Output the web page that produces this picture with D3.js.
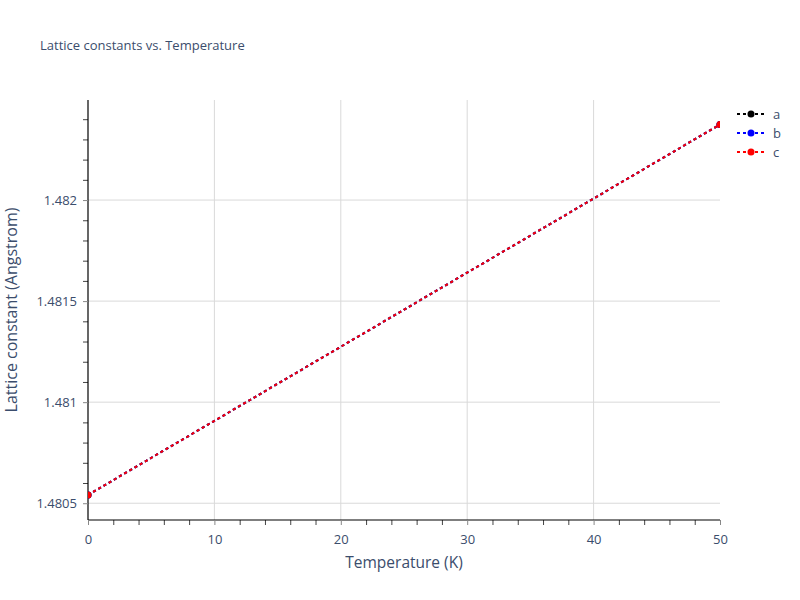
<!DOCTYPE html>
<html>
<head>
<meta charset="utf-8">
<script src="https://cdn.jsdelivr.net/npm/d3@7"></script>
<style>
  body { margin: 0; background: #fff; }
  text { font-family: "Open Sans", verdana, arial, sans-serif; }
</style>
</head>
<body>
<svg id="chart"></svg>
<script>
// data
const temperature = [0, 50];
const latticeA = [1.480541, 1.482374];
const latticeB = [1.480541, 1.482374];
const latticeC = [1.480541, 1.482374];
const seriesNames = ['a', 'b', 'c'];
const seriesColors = ['black', 'blue', 'red'];
const xTicks = [0, 10, 20, 30, 40, 50];
const yTicks = [1.4805, 1.481, 1.4815, 1.482];
const yTickLabels = ['1.4805', '1.481', '1.4815', '1.482'];

const W = 800, H = 600;
const margin = {top: 100, right: 80, bottom: 80, left: 88};
const width = W - margin.left - margin.right;
const height = H - margin.top - margin.bottom;
const textColor = '#3b4d6c';

const svg = d3.select('#chart')
  .attr('width', W)
  .attr('height', H);

const g = svg.append('g')
  .attr('transform', 'translate(' + margin.left + ',' + margin.top + ')');

const x = d3.scaleLinear()
  .domain([0, 50])
  .range([0, width]);

const y = d3.scaleLinear()
  .domain([1.480417, 1.482495])
  .range([height, 0]);

// grid
g.append('g')
  .selectAll('line')
  .data(xTicks.filter(d => d > 0 && d < 50))
  .join('line')
  .attr('x1', d => x(d)).attr('x2', d => x(d))
  .attr('y1', 0).attr('y2', height)
  .attr('stroke', '#d9d9d9').attr('stroke-width', 1);

g.append('g')
  .selectAll('line')
  .data(yTicks)
  .join('line')
  .attr('x1', 0).attr('x2', width)
  .attr('y1', d => y(d)).attr('y2', d => y(d))
  .attr('stroke', '#d9d9d9').attr('stroke-width', 1);

// minor ticks
const xMinor = d3.range(0, 50.001, 2).filter(d => d % 10 !== 0);
g.append('g')
  .attr('transform', 'translate(0,' + height + ')')
  .call(d3.axisBottom(x).tickValues(xMinor).tickSize(5).tickFormat(''))
  .call(s => s.select('.domain').remove())
  .selectAll('line').attr('stroke', '#444');

const yMinor = d3.range(14805, 14825, 1).map(d => d / 10000)
  .filter(d => d >= y.domain()[0] && yTicks.every(t => Math.abs(t - d) > 1e-7));
g.append('g')
  .call(d3.axisLeft(y).tickValues(yMinor).tickSize(5).tickFormat(''))
  .call(s => s.select('.domain').remove())
  .selectAll('line').attr('stroke', '#444');

// major axes
const xAxis = g.append('g')
  .attr('transform', 'translate(0,' + height + ')')
  .call(d3.axisBottom(x).tickValues(xTicks).tickSize(5).tickPadding(10).tickFormat(d3.format('d')));
xAxis.select('.domain').attr('stroke', 'black').attr('stroke-width', 1.2)
  .attr('d', 'M0,0H' + width);
xAxis.selectAll('line').attr('stroke', '#888');
xAxis.selectAll('text').attr('fill', textColor).attr('font-size', 13);

const yAxis = g.append('g')
  .call(d3.axisLeft(y).tickValues(yTicks).tickSize(5).tickPadding(6)
    .tickFormat((d, i) => yTickLabels[i]));
yAxis.select('.domain').attr('stroke', 'black').attr('stroke-width', 1.2)
  .attr('d', 'M0,' + height + 'V0');
yAxis.selectAll('line').attr('stroke', '#888');
yAxis.selectAll('text').attr('fill', textColor).attr('font-size', 13);

// series
const series = [latticeA, latticeB, latticeC].map((vals, i) => ({
  name: seriesNames[i],
  color: seriesColors[i],
  points: temperature.map((t, j) => ({t: t, v: vals[j]}))
}));

svg.append('defs').append('clipPath').attr('id', 'plotclip')
  .append('rect').attr('width', width).attr('height', height);

const line = d3.line()
  .x(d => x(d.t))
  .y(d => y(d.v));

const plot = g.append('g').attr('clip-path', 'url(#plotclip)');
series.forEach(s => {
  plot.append('path')
    .datum(s.points)
    .attr('fill', 'none')
    .attr('stroke', s.color)
    .attr('stroke-width', 2)
    .attr('stroke-dasharray', '3,3')
    .attr('d', line);
  plot.selectAll(null)
    .data(s.points)
    .join('circle')
    .attr('cx', d => x(d.t))
    .attr('cy', d => y(d.v))
    .attr('r', 3.5)
    .attr('fill', s.color);
});

// title
svg.append('text')
  .attr('x', 40).attr('y', 50)
  .attr('fill', textColor)
  .attr('font-size', 13)
  .text('Lattice constants vs. Temperature');

svg.append('text')
  .attr('x', margin.left + width / 2).attr('y', 568)
  .attr('text-anchor', 'middle')
  .attr('fill', textColor)
  .attr('font-size', 15.5)
  .text('Temperature (K)');

svg.append('text')
  .attr('transform', 'translate(17,' + (margin.top + height / 2) + ') rotate(-90)')
  .attr('text-anchor', 'middle')
  .attr('fill', textColor)
  .attr('font-size', 16)
  .text('Lattice constant (Angstrom)');

// legend
const legend = svg.append('g').attr('transform', 'translate(737,114)');
series.forEach((s, i) => {
  const row = legend.append('g').attr('transform', 'translate(0,' + (i * 19) + ')');
  row.append('line')
    .attr('x1', 0).attr('x2', 28)
    .attr('stroke', s.color).attr('stroke-width', 2)
    .attr('stroke-dasharray', '3,3');
  row.append('circle').attr('cx', 14).attr('r', 3.5).attr('fill', s.color);
  row.append('text')
    .attr('x', 36).attr('y', 4.5)
    .attr('fill', textColor)
    .attr('font-size', 13)
    .text(s.name);
});
</script>
</body>
</html>
